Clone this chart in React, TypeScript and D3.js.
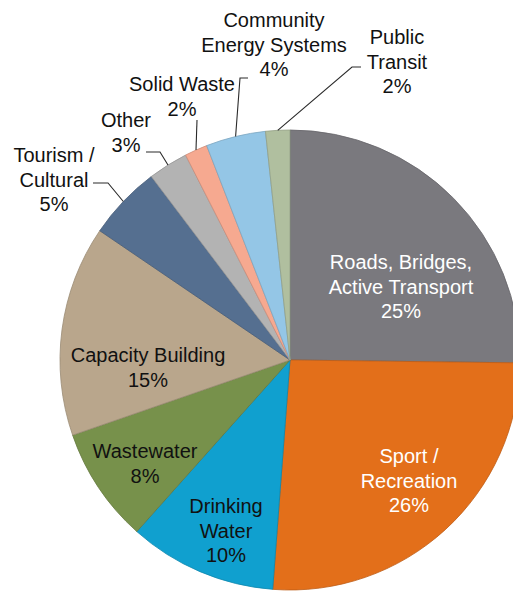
import React from 'react';
import * as d3 from 'd3';

// slices clockwise from 12 o'clock
const categories = [
  'Roads, Bridges,|Active Transport',
  'Sport /|Recreation',
  'Drinking|Water',
  'Wastewater',
  'Capacity Building',
  'Tourism /|Cultural',
  'Other',
  'Solid Waste',
  'Community|Energy Systems',
  'Public|Transit',
];
const shares = [25.2, 26.0, 10.4, 8.1, 14.8, 5.2, 2.8, 1.6, 4.2, 1.7];
const colors = [
  '#7a797e', '#e36f1a', '#10a0cf', '#77914b', '#b9a68c',
  '#556f90', '#b3b3b3', '#f6a990', '#94c6e6', '#b0bf9f',
];
const textColors = ['#ffffff', '#ffffff', '#111', '#111', '#111', '#111', '#111', '#111', '#111', '#111'];

// label anchor (centre of text block, first baseline) and leader elbow/end, null = inside label
const labelPos: [number, number][] = [
  [401, 269], [409, 463], [226, 513], [145, 458], [148, 362],
  [54, 162], [126, 127], [182, 91], [274, 27], [397, 44],
];
const leaders: ([number, number][] | null)[] = [
  null, null, null, null, null,
  [[108, 183], [93, 183]],
  [[160, 152], [146, 152]],
  [[197, 120]],
  [[240, 78], [248, 78]],
  [[352, 67], [361, 67]],
];

const W = 513;
const H = 591;
const cx = 290;
const cy = 360;
const R = 230;
const LINE = 24.5;

export default function App() {
  const pie = d3.pie<number>().sort(null).value((d) => d);
  const arcs = pie(shares);
  const arc = d3.arc<d3.PieArcDatum<number>>().innerRadius(0).outerRadius(R);
  const edge = d3.arc<d3.PieArcDatum<number>>().innerRadius(R).outerRadius(R);

  return (
    <svg width={W} height={H} style={{ position: 'absolute', left: 0, top: 0 }}
      fontFamily="'Liberation Sans', Arial, Helvetica, sans-serif" fontSize={20}>
      <g transform={`translate(${cx},${cy})`}>
        {arcs.map((a, i) => (
          <path key={i} d={arc(a) as string} fill={colors[i]}
            stroke={d3.color(colors[i])!.darker(0.5).toString()} strokeWidth={0.8} />
        ))}
      </g>
      {arcs.map((a, i) => {
        const pts = leaders[i];
        if (!pts) return null;
        const [sx, sy] = edge.centroid(a);
        const all = [[sx + cx, sy + cy] as [number, number], ...pts];
        return (
          <path key={'l' + i} d={d3.line()(all) as string} fill="none" stroke="#2a2a2a" strokeWidth={1.1} />
        );
      })}
      {categories.map((c, i) => {
        const lines = [...c.split('|'), `${Math.round(shares[i])}%`];
        const [x, y] = labelPos[i];
        return (
          <text key={'t' + i} x={x} y={y} textAnchor="middle" fill={textColors[i]}>
            {lines.map((s, j) => (
              <tspan key={j} x={x} y={y + j * LINE}>{s}</tspan>
            ))}
          </text>
        );
      })}
    </svg>
  );
}
